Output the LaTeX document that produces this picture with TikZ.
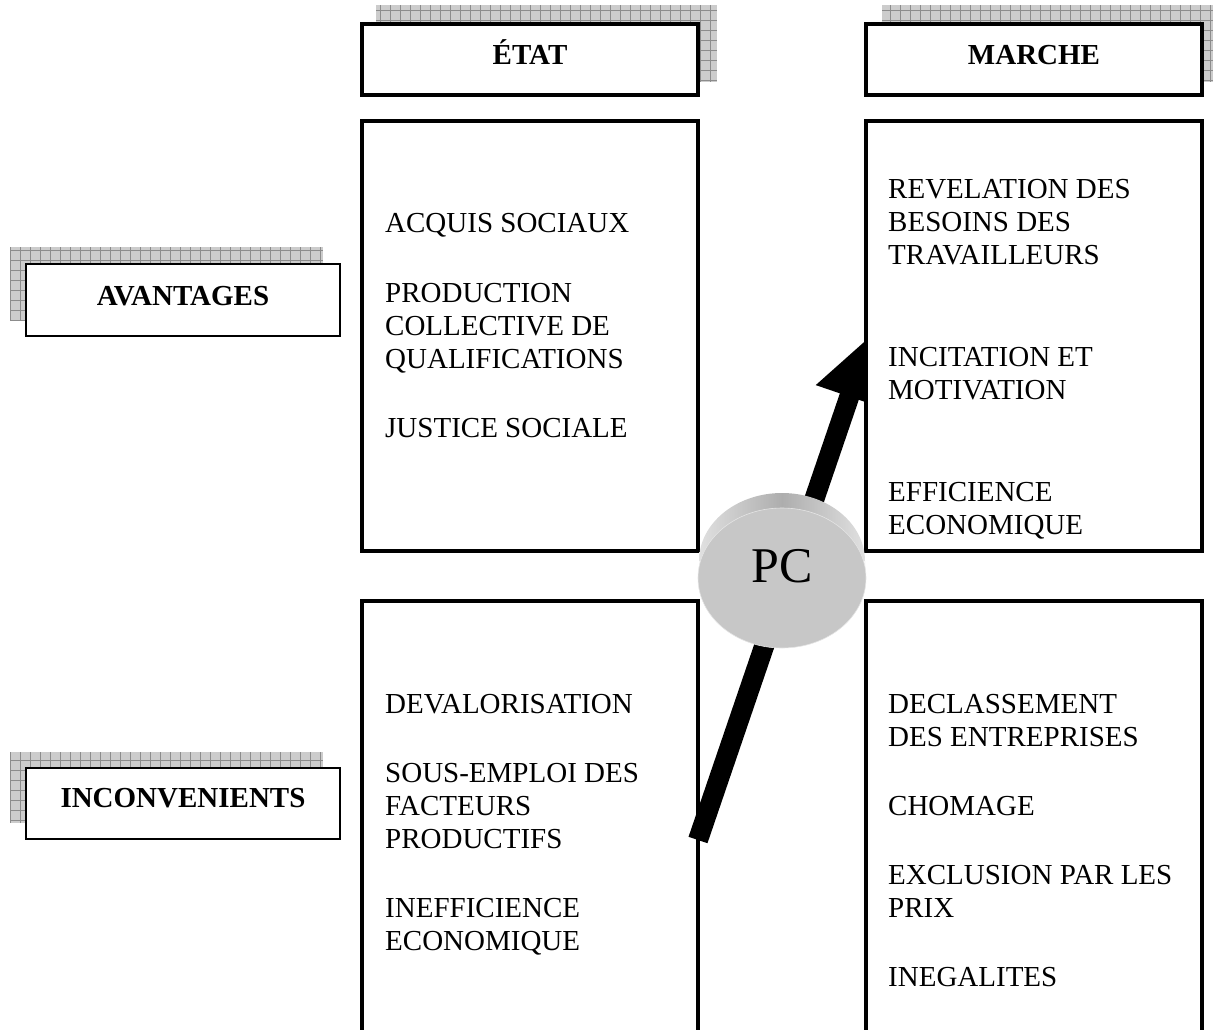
\documentclass[tikz,border=0pt]{standalone}
\usepackage{fontspec}
\setmainfont{Liberation Serif}
\usetikzlibrary{arrows.meta,shapes.geometric}
\tikzset{
  shadowfill/.style={fill=black!20},
  shadowgrid/.style={draw=black!45, line width=0.7pt},
  hdrbox/.style={draw, line width=4pt, fill=white, rectangle, inner sep=0},
  bigbox/.style={draw, line width=3.6pt, fill=white, rectangle, inner sep=0},
  sidebox/.style={draw, line width=2pt, fill=white, rectangle, inner sep=0},
  txt/.style={anchor=base west, inner sep=0, font=\fontsize{29}{33}\selectfont},
  hdr/.style={anchor=base, inner sep=0, font=\fontsize{29}{33}\selectfont\bfseries},
  bigarrow/.style={line width=20pt, -{Triangle[length=64pt,width=66pt]}},
}
\begin{document}
\begin{tikzpicture}[x=1pt,y=-1pt]
\useasboundingbox (0,0) rectangle (1213,1030);
\clip (0,0) rectangle (1213,1030);
% shadows
\foreach \xa/\ya/\xb/\yb in {376/5/717/82, 882/5/1220/82, 10/247/323/320, 10/752/323/823}{
  \fill[shadowfill] (\xa,\ya) rectangle (\xb,\yb);
  \begin{scope}
    \clip (\xa,\ya) rectangle (\xb,\yb);
    \draw[shadowgrid, step=10pt] (\xa,\ya) grid (\xb,\yb);
  \end{scope}
}
% header boxes
\node[hdrbox, minimum width=336pt, minimum height=71pt] (etat) at (530,59.5) {};
\node[hdrbox, minimum width=336pt, minimum height=71pt] (marche) at (1034,59.5) {};
\node[sidebox, minimum width=314pt, minimum height=72pt] (avant) at (183,300) {};
\node[sidebox, minimum width=314pt, minimum height=71pt] (incon) at (183,803.5) {};
% Etat boxes
\node[bigbox, minimum width=336pt, minimum height=430pt] (etatA) at (530,336) {};
\node[bigbox, minimum width=336pt, minimum height=440pt] (etatI) at (530,821) {};
% arrow
\coordinate (atail) at (698,840);
\coordinate (atip) at (870,336);
\draw[bigarrow] (atail) -- (atip);
% Marche boxes
\node[bigbox, minimum width=336pt, minimum height=430pt] (marcheA) at (1034,336) {};
\node[bigbox, minimum width=336pt, minimum height=440pt] (marcheI) at (1034,821) {};
% PC cylinder
\shade[left color=black!12, right color=black!12, middle color=black!32]
  (782,561) ellipse (83 and 68) (699,561) rectangle (865,578);
\node[ellipse, fill=black!22, draw=black!10, line width=0.6pt, minimum width=168pt, minimum height=140pt, inner sep=0] (pc) at (782,578) {};
\node[anchor=base, inner sep=0, font=\fontsize{50}{56}\selectfont] (pctext) at (782,582) {PC};
% header texts
\node[hdr] (tetat) at (530,65) {ÉTAT};
\node[hdr] (tmarche) at (1034,65) {MARCHE};
\node[hdr] (tavant) at (183,305) {AVANTAGES};
\node[hdr] (tincon) at (183,807) {INCONVENIENTS};
% Etat avantages
\node[txt] (e1) at (385,232) {ACQUIS SOCIAUX};
\node[txt] (e2) at (385,302) {PRODUCTION};
\node[txt] (e3) at (385,335) {COLLECTIVE DE};
\node[txt] (e4) at (385,368) {QUALIFICATIONS};
\node[txt] (e5) at (385,437) {JUSTICE SOCIALE};
% Marche avantages
\node[txt] (m1) at (888,198) {REVELATION DES};
\node[txt] (m2) at (888,231) {BESOINS DES};
\node[txt] (m3) at (888,264) {TRAVAILLEURS};
\node[txt] (m4) at (888,366) {INCITATION ET};
\node[txt] (m5) at (888,399) {MOTIVATION};
\node[txt] (m6) at (888,501) {EFFICIENCE};
\node[txt] (m7) at (888,534) {ECONOMIQUE};
% Etat inconvenients
\node[txt] (f1) at (385,713) {DEVALORISATION};
\node[txt] (f2) at (385,782) {SOUS-EMPLOI DES};
\node[txt] (f3) at (385,815) {FACTEURS};
\node[txt] (f4) at (385,848) {PRODUCTIFS};
\node[txt] (f5) at (385,917) {INEFFICIENCE};
\node[txt] (f6) at (385,950) {ECONOMIQUE};
% Marche inconvenients
\node[txt] (g1) at (888,713) {DECLASSEMENT};
\node[txt] (g2) at (888,746) {DES ENTREPRISES};
\node[txt] (g3) at (888,815) {CHOMAGE};
\node[txt] (g4) at (888,884) {EXCLUSION PAR LES};
\node[txt] (g5) at (888,917) {PRIX};
\node[txt] (g6) at (888,986) {INEGALITES};
\end{tikzpicture}
\end{document}
